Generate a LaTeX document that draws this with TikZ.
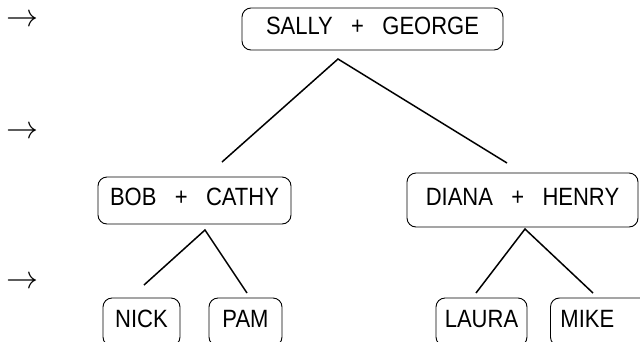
\documentclass[tikz,border=0pt]{standalone}
\usepackage{fontspec}
\usepackage{graphicx}
\usepackage{tikz}
\newfontfamily\namefont[FakeStretch=0.88]{Liberation Sans}

\begin{document}
\begin{tikzpicture}[
  x=1pt, y=-1pt,
  every node/.style={inner sep=0pt},
  couple/.style={draw, rounded corners=9pt, line width=0.9pt,
    font=\namefont\fontsize{25}{25}\selectfont, text height=18pt, text depth=8pt},
  branch/.style={line width=1.5pt}
]
\useasboundingbox (0,0) rectangle (640,341);
\clip (0,0) rectangle (640,341);

% generation markers
\node (gen1) at (22.5,21) {\scalebox{3.2}{$\rightarrow$}};
\node (gen2) at (22.5,133) {\scalebox{3.2}{$\rightarrow$}};
\node (gen3) at (22.5,283) {\scalebox{3.2}{$\rightarrow$}};

% couples and children
\node[couple, minimum width=261pt, minimum height=42pt] (sg) at (372.5,29) {SALLY~~~+~~~GEORGE};
\node[couple, minimum width=193pt, minimum height=47pt] (bc) at (194.5,200.5) {BOB~~~+~~~CATHY};
\node[couple, minimum width=231pt, minimum height=54pt] (dh) at (522.5,200) {DIANA~~~+~~~HENRY};
\node[couple, minimum width=77pt, minimum height=48pt] (nick) at (141.5,322) {NICK};
\node[couple, minimum width=73pt, minimum height=48pt] (pam) at (245.5,322) {PAM};
\node[couple, minimum width=91pt, minimum height=48pt] (laura) at (481.5,322) {LAURA};
\node[couple, anchor=west, minimum height=48pt, inner xsep=10pt, text width=90pt, align=left] (mike) at (550,322) {MIKE};

% branch ends
\coordinate (sg-fork) at (338,59);
\coordinate (sg-left) at (222,162);
\coordinate (sg-right) at (507,163);
\coordinate (bc-fork) at (205,230);
\coordinate (bc-left) at (144,285);
\coordinate (bc-right) at (247,293);
\coordinate (dh-fork) at (525,229);
\coordinate (dh-left) at (476,293);
\coordinate (dh-right) at (593,293);

\draw[branch] (sg-left) -- (sg-fork) -- (sg-right);
\draw[branch] (bc-left) -- (bc-fork) -- (bc-right);
\draw[branch] (dh-left) -- (dh-fork) -- (dh-right);
\end{tikzpicture}
\end{document}
